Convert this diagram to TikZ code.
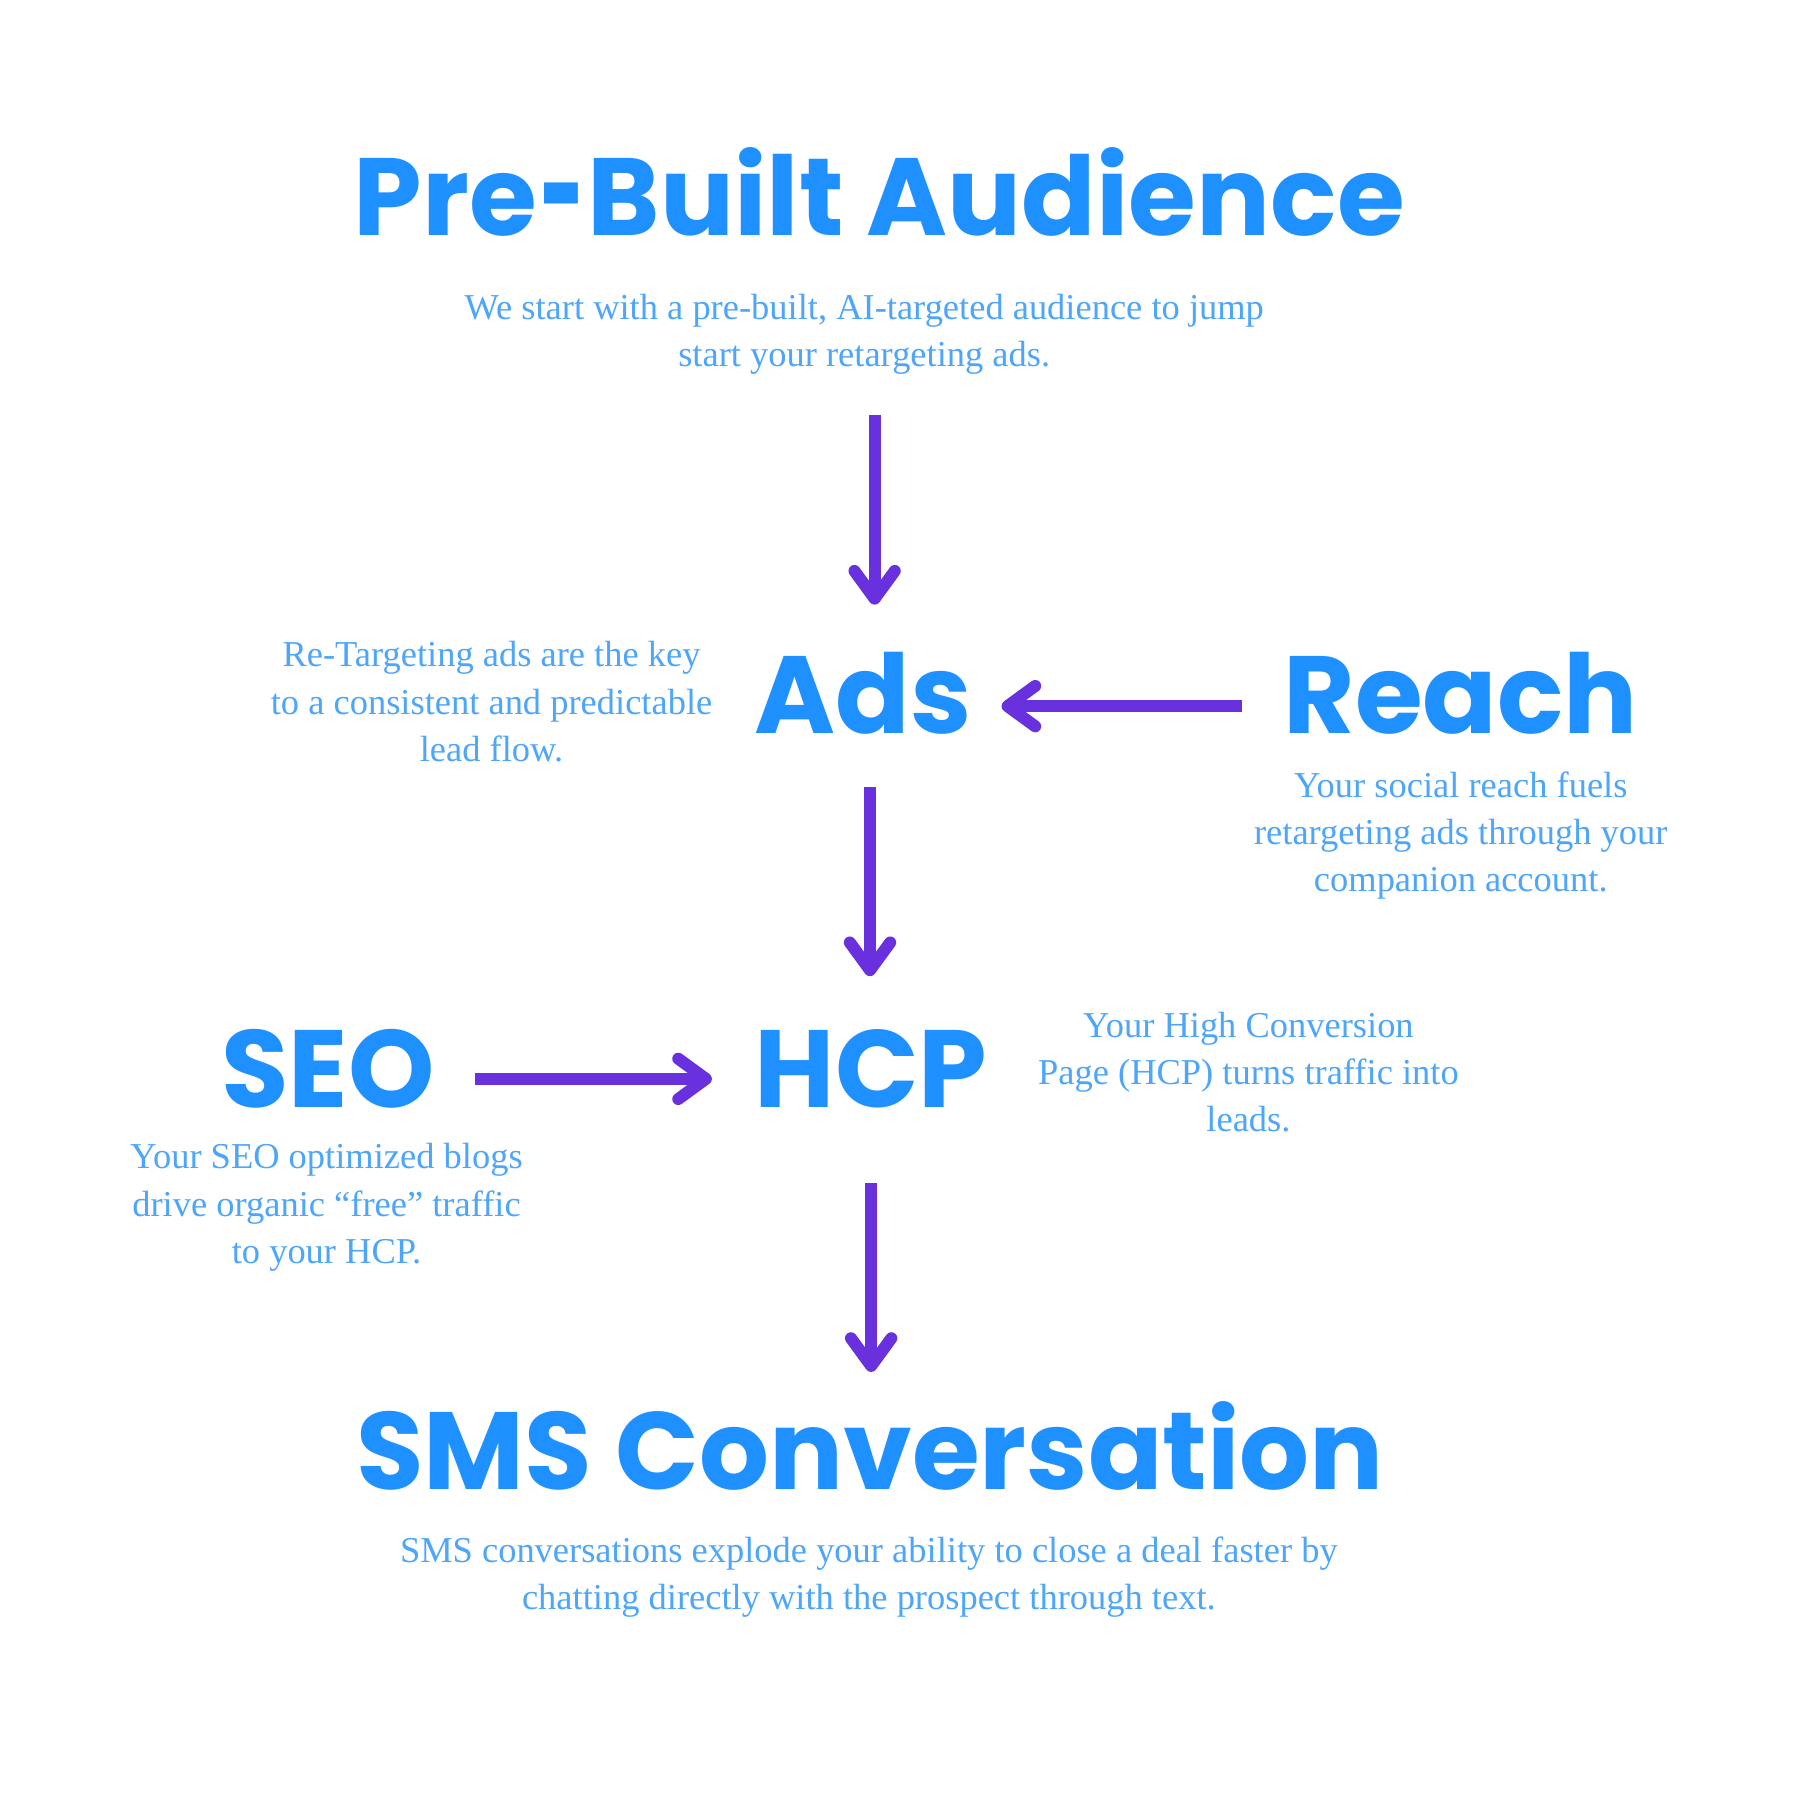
\documentclass[tikz,border=0pt]{standalone}
\usepackage{fontspec}
\setmainfont{Liberation Serif}
\newfontfamily\headfont{Poppins}
\usetikzlibrary{arrows.meta}
\definecolor{headblue}{HTML}{1E90FF}
\definecolor{bodyblue}{HTML}{4DA6FC}
\definecolor{arrowpurple}{HTML}{6930DE}
\newcommand{\shorthyph}{\kern0.03em\raisebox{-0.09em}{\scalebox{0.7}[1.35]{-}}\kern0.03em}
\tikzset{
  heading/.style={anchor=base, inner sep=0pt, text=headblue, font=\headfont\bfseries\fontsize{47.6}{57}\selectfont},
  body/.style={anchor=base, inner sep=0pt, align=center, text=bodyblue, font=\fontsize{15.8}{20.5}\selectfont},
  flow/.style={draw=arrowpurple, line width=5.2pt, line cap=butt,
    -{Straight Barb[length=12pt, width=17.5pt, round]}},
}
\begin{document}
\begin{tikzpicture}[x=0.5pt,y=-0.5pt]
\useasboundingbox (0,0) rectangle (1560,1560);
\fill[white] (0,0) rectangle (1560,1560);
% headings
\node[heading] (title) at (762,204) {Pre\shorthyph Built Audience};
\node[heading] (ads) at (748,636) {Ads};
\node[heading] (reach) at (1266,636) {Reach};
\node[heading] (hcp) at (755,960) {HCP};
\node[heading] (seo) at (284,960) {SEO};
\node[heading] (sms) at (754,1291) {SMS Conversation};
% body texts (positioned at the baseline of their last line)
\node[body] (titletext) at (749,318) {We start with a pre-built, AI-targeted audience to jump\\start your retargeting ads.};
\node[body] (adstext) at (426,660) {Re-Targeting ads are the key\\to a consistent and predictable\\lead flow.};
\node[body] (reachtext) at (1266,773) {Your social reach fuels\\retargeting ads through your\\companion account.};
\node[body] (hcptext) at (1082,981) {Your High Conversion\\Page (HCP) turns traffic into\\leads.};
\node[body] (seotext) at (283,1095) {Your SEO optimized blogs\\drive organic “free” traffic\\to your HCP.};
\node[body] (smstext) at (753,1395) {SMS conversations explode your ability to close a deal faster by\\chatting directly with the prospect through text.};
% connector end points
\coordinate (a1s) at (758,360);  \coordinate (a1e) at (758,524);
\coordinate (a2s) at (1076,612); \coordinate (a2e) at (868,612);
\coordinate (a3s) at (754,682);  \coordinate (a3e) at (754,846);
\coordinate (a4s) at (412,935);  \coordinate (a4e) at (617,935);
\coordinate (a5s) at (755,1025); \coordinate (a5e) at (755,1189);
\draw[flow] (a1s) -- (a1e);
\draw[flow] (a2s) -- (a2e);
\draw[flow] (a3s) -- (a3e);
\draw[flow] (a4s) -- (a4e);
\draw[flow] (a5s) -- (a5e);
\end{tikzpicture}
\end{document}
